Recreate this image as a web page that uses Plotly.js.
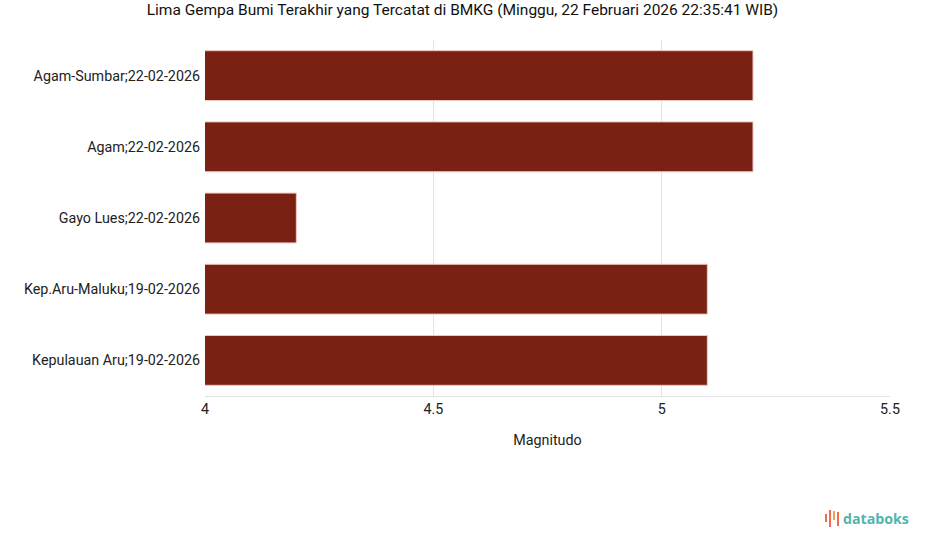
<!DOCTYPE html>
<html>
<head>
<meta charset="utf-8">
<script src="https://cdn.plot.ly/plotly-3.0.1.min.js"></script>
<style>html,body{margin:0;padding:0;background:#fff;}#chart{width:925px;height:547px;}</style>
</head>
<body>
<div id="chart"></div>
<script>
const locations = ["Agam-Sumbar;22-02-2026", "Agam;22-02-2026", "Gayo Lues;22-02-2026", "Kep.Aru-Maluku;19-02-2026", "Kepulauan Aru;19-02-2026"];
const magnitudes = [5.2, 5.2, 4.2, 5.1, 5.1];
const xTicks = [4, 4.5, 5, 5.5];
const xTickLabels = ["4", "4.5", "5", "5.5"];

const trace = {
  type: "bar",
  orientation: "h",
  y: locations,
  x: magnitudes,
  base: 0,
  marker: {color: "#7a2114", line: {color: "#f0c8c0", width: 1}},
  hoverinfo: "x+y"
};

const layout = {
  width: 925, height: 547,
  margin: {l: 205, r: 35, t: 40, b: 151},
  paper_bgcolor: "#ffffff", plot_bgcolor: "#ffffff",
  font: {family: "Roboto, 'Liberation Sans', sans-serif", size: 14, color: "#222"},
  title: {text: "Lima Gempa Bumi Terakhir yang Tercatat di BMKG (Minggu, 22 Februari 2026 22:35:41 WIB)",
          x: 0.5, xanchor: "center", y: 0.982, yanchor: "middle", font: {size: 15.5, color: "#111"}},
  bargap: 0.3,
  xaxis: {range: [4, 5.5], tickvals: xTicks, ticktext: xTickLabels, showgrid: true, gridcolor: "#e3e3e3",
          zeroline: false, showline: true, linecolor: "#e3e3e3", ticks: "", ticklen: 0,
          tickfont: {size: 14.3, color: "#222"},
          title: {text: "Magnitudo", font: {size: 14.3, color: "#222"}, standoff: 18}},
  yaxis: {autorange: "reversed", showgrid: false, zeroline: false, ticks: "", ticklen: 0,
          ticklabelstandoff: 4,
          tickfont: {size: 14.3, color: "#222"}, automargin: false},
  showlegend: false,
  annotations: [{
    xref: "paper", yref: "paper", x: (911 - 205) / 685, y: (396 - 518) / 356, xanchor: "right", yanchor: "middle",
    text: "<b>databoks</b>", showarrow: false, font: {family: "'Open Sans', Roboto, sans-serif", size: 14.2, color: "#4fb5ae"}
  }],
  shapes: []
};

// small logo glyph bars (decorative)
const iconX = [826, 830, 834, 838];
const iconH = [[514, 522], [510, 527], [511, 520], [512, 526]];
const iconC = ["#f26b4f", "#f26b4f", "#f3a24f", "#f26b4f"];
for (let i = 0; i < iconX.length; i++) {
  layout.shapes.push({type: "line", xref: "paper", yref: "paper",
    x0: (iconX[i] - 205) / 685, x1: (iconX[i] - 205) / 685,
    y0: (396 - iconH[i][0]) / 356, y1: (396 - iconH[i][1]) / 356,
    line: {color: iconC[i], width: 2}});
}

Plotly.newPlot("chart", [trace], layout, {displayModeBar: false, staticPlot: true});
</script>
</body>
</html>
